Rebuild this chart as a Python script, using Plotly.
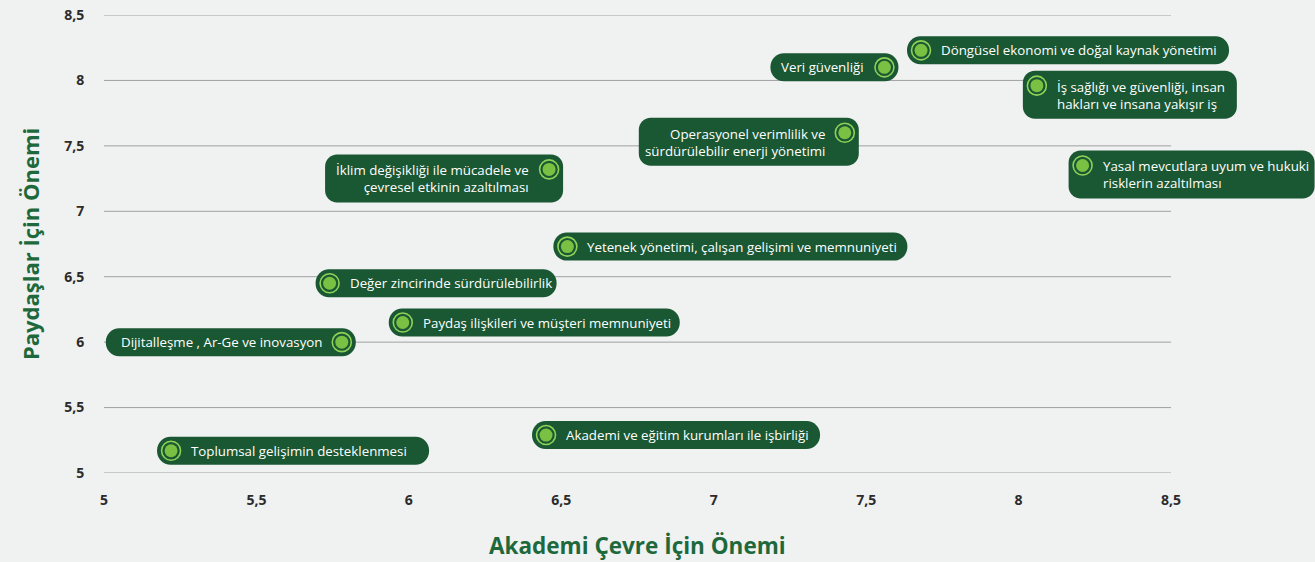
import plotly.graph_objects as go

# ---- data ----
labels = [
    "Döngüsel ekonomi ve doğal kaynak yönetimi",
    "Veri güvenliği",
    "İş sağlığı ve güvenliği, insan<br>hakları ve insana yakışır iş",
    "Operasyonel verimlilik ve<br>sürdürülebilir enerji yönetimi",
    "İklim değişikliği ile mücadele ve<br>çevresel etkinin azaltılması",
    "Yasal mevcutlara uyum ve hukuki<br>risklerin azaltılması",
    "Yetenek yönetimi, çalışan gelişimi ve memnuniyeti",
    "Değer zincirinde sürdürülebilirlik",
    "Paydaş ilişkileri ve müşteri memnuniyeti",
    "Dijitalleşme , Ar-Ge ve inovasyon",
    "Toplumsal gelişimin desteklenmesi",
    "Akademi ve eğitim kurumları ile işbirliği",
]
academia = [7.68, 7.56, 8.06, 7.43, 6.46, 8.21, 6.52, 5.74, 5.98, 5.78, 5.22, 6.45]
stakeholders = [8.23, 8.10, 7.96, 7.60, 7.32, 7.35, 6.73, 6.45, 6.15, 6.00, 5.17, 5.29]
label_side = ["r", "l", "r", "l", "l", "r", "r", "r", "r", "l", "r", "r"]
box_width = [322, 128, 214, 220, 238, 246, 354, 241, 291, 250, 272, 288]

tick_vals = [5, 5.5, 6, 6.5, 7, 7.5, 8, 8.5]

# ---- styles ----
BOX = "#1a5733"
TITLE_GREEN = "#1e693c"
FILL = "#7ac143"
RING = "#8ed257"
BG = "#f0f1f1"
GRID = "#a0a0a0"
FONT = "Open Sans"

fig = go.Figure()

shapes = []
# horizontal grid lines, limited to the tick range
for v in tick_vals:
    shapes.append(dict(type="line", xref="x", yref="y", x0=min(tick_vals), x1=max(tick_vals),
                       y0=v, y1=v, line=dict(color=GRID, width=1), layer="below"))


def rrect(x0, x1, y0, y1, r):
    k = 0.5523 * r
    return (f"M {x0+r},{y1} L {x1-r},{y1} "
            f"C {x1-r+k},{y1} {x1},{y1-r+k} {x1},{y1-r} "
            f"L {x1},{y0+r} "
            f"C {x1},{y0+r-k} {x1-r+k},{y0} {x1-r},{y0} "
            f"L {x0+r},{y0} "
            f"C {x0+r-k},{y0} {x0},{y0+r-k} {x0},{y0+r} "
            f"L {x0},{y1-r} "
            f"C {x0},{y1-r+k} {x0+r-k},{y1} {x0+r},{y1} Z")


annotations = []
for lab, xv, yv, side, w in zip(labels, academia, stakeholders, label_side, box_width):
    two = "<br>" in lab
    if two:
        y0, y1, r = -33, 15, 12
    else:
        y0, y1, r = -14, 14, 13.5
    if side == "r":
        x0, x1 = -14, w - 14
    else:
        x0, x1 = -(w - 14), 14
    shapes.append(dict(type="path", xref="x", yref="y", xsizemode="pixel", ysizemode="pixel",
                       xanchor=xv, yanchor=yv, path=rrect(x0, x1, y0, y1, r),
                       fillcolor=BOX, line=dict(width=0), layer="below"))
    annotations.append(dict(
        x=xv, y=yv, xref="x", yref="y", text=lab, showarrow=False,
        xanchor="left" if side == "r" else "right",
        align="left" if side == "r" else "right",
        xshift=18 if side == "r" else -18,
        yanchor="middle", yshift=-9.5 if two else 0,
        font=dict(family=FONT, size=13.3, color="white"),
    ))

# point markers
fig.add_trace(go.Scatter(x=academia, y=stakeholders, mode="markers", hoverinfo="skip",
                         marker=dict(size=19, color=BOX, line=dict(color=RING, width=1.6)),
                         showlegend=False))
fig.add_trace(go.Scatter(x=academia, y=stakeholders, mode="markers", text=labels,
                         hoverinfo="text",
                         marker=dict(size=13, color=FILL, line=dict(width=0)),
                         showlegend=False))

# axis titles
xmid = (min(tick_vals) + max(tick_vals)) / 2
annotations.append(dict(x=xmid, y=0, xref="x", yref="paper", yanchor="middle", yshift=-72,
                        text="Akademi Çevre İçin Önemi", showarrow=False,
                        font=dict(family=FONT, size=22.5, color=TITLE_GREEN, weight=700)))
annotations.append(dict(x=0, y=xmid, xref="paper", yref="y", xanchor="center", xshift=-74,
                        text="Paydaşlar İçin Önemi", showarrow=False, textangle=-90,
                        font=dict(family=FONT, size=22, color=TITLE_GREEN, weight=700)))

W, H = 1315, 562
ML, MR, MT, MB = 104, 0, 15, 89
px_per_unit = (1171 - ML) / (max(tick_vals) - min(tick_vals))
x_hi = min(tick_vals) + (W - ML - MR) / px_per_unit

tickfont = dict(family=FONT, size=14, color="#2b2b2b", weight=700)
fig.update_layout(
    width=W, height=H,
    margin=dict(l=ML, r=MR, t=MT, b=MB),
    paper_bgcolor=BG, plot_bgcolor=BG,
    separators=",.",
    shapes=shapes, annotations=annotations,
    xaxis=dict(range=[min(tick_vals), x_hi], tickvals=tick_vals, showgrid=False, zeroline=False,
               showline=False, ticks="outside", ticklen=14, tickcolor="rgba(0,0,0,0)",
               tickfont=tickfont, fixedrange=True),
    yaxis=dict(range=[min(tick_vals), max(tick_vals)], tickvals=tick_vals, showgrid=False,
               zeroline=False, showline=False, ticks="outside", ticklen=16,
               tickcolor="rgba(0,0,0,0)", tickfont=tickfont, fixedrange=True),
    hovermode="closest",
)

fig.write_html("out.html", config={"displayModeBar": False},
               post_script="document.body.style.margin='0';"
                           "document.body.style.background='" + BG + "';")
